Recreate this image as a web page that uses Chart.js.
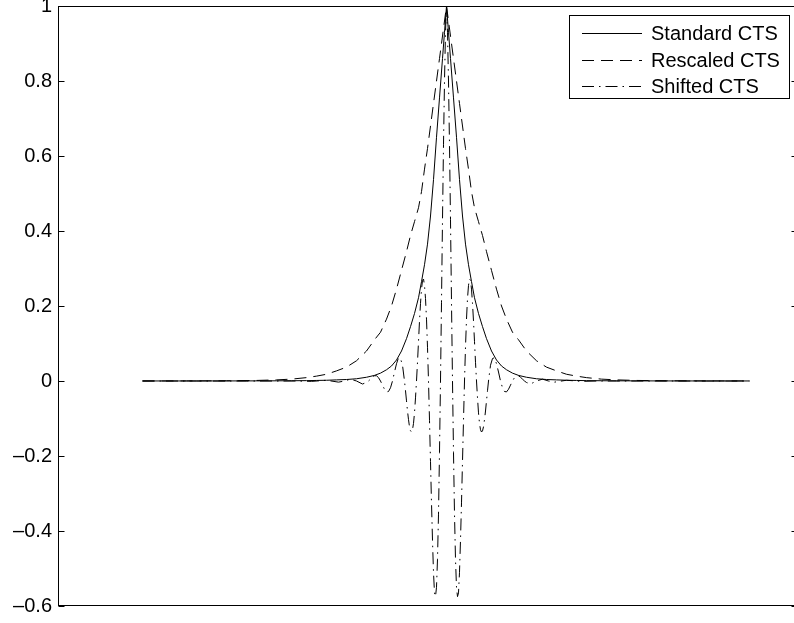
<!DOCTYPE html>
<html>
<head>
<meta charset="utf-8">
<script src="https://cdn.jsdelivr.net/npm/chart.js@4.4.1/dist/chart.umd.min.js"></script>
<style>
html, body { margin: 0; padding: 0; overflow: hidden; background: #fff; }
</style>
</head>
<body>
<canvas id="cts" width="800" height="623"></canvas>
<script>
// x positions are offsets from the peak (no x labels on the original)
var xSmooth = [-304, -260, -220, -190, -170, -155, -140, -130, -120, -110, -100, -90, -80, -72, -66, -60, -55, -50, -45, -40, -36, -32, -28, -25, -22, -19, -16, -13, -10, -7, -4, -2,
    0, 2, 4, 7, 10, 13, 16, 19, 22, 25, 28, 32, 36, 40, 45, 50, 55, 60, 66, 72, 80, 90, 100, 110, 120, 130, 140, 155, 170, 190, 220, 260, 303];

var standardVals = [0.0001, 0.0001, 0.0002, 0.0003, 0.0005, 0.0007, 0.001, 0.0015, 0.002, 0.003, 0.004, 0.006, 0.01, 0.015, 0.021, 0.03, 0.04, 0.056, 0.08, 0.113, 0.145, 0.18, 0.222, 0.265, 0.31, 0.365, 0.44, 0.537, 0.65, 0.755, 0.86, 0.93,
    1.0, 0.93, 0.86, 0.755, 0.65, 0.537, 0.44, 0.365, 0.31, 0.265, 0.222, 0.18, 0.145, 0.113, 0.08, 0.056, 0.04, 0.03, 0.021, 0.015, 0.01, 0.006, 0.004, 0.003, 0.002, 0.0015, 0.001, 0.0007, 0.0005, 0.0003, 0.0002, 0.0001, 0.0001];

var rescaledVals = [0.0001, 0.0002, 0.0006, 0.0015, 0.003, 0.005, 0.009, 0.013, 0.018, 0.027, 0.037, 0.054, 0.08, 0.11, 0.13, 0.165, 0.2, 0.245, 0.295, 0.345, 0.388, 0.425, 0.462, 0.505, 0.565, 0.62, 0.68, 0.74, 0.8, 0.86, 0.92, 0.96,
    1.0, 0.96, 0.92, 0.86, 0.8, 0.74, 0.68, 0.62, 0.565, 0.505, 0.462, 0.425, 0.388, 0.345, 0.295, 0.245, 0.2, 0.165, 0.13, 0.11, 0.08, 0.054, 0.037, 0.027, 0.018, 0.013, 0.009, 0.005, 0.003, 0.0015, 0.0006, 0.0002, 0.0001];

var xShifted = [-304, -250, -200, -170, -150, -135, -120, -108, -102, -96, -90, -84,
    -80, -78, -76, -74, -72, -70, -68, -66, -64, -62, -60, -58, -56, -54, -52, -50, -48, -46, -44,
    -42, -41, -40, -39, -38, -37, -36, -35, -34, -33, -32, -31, -30, -29, -28, -27, -26, -25, -24, -23, -22,
    -21, -20, -19, -18, -17, -16, -15, -14, -13, -12, -11, -10, -9, -8, -7, -6, -5, -4, -3, -2, -1,
    0, 1, 2, 3, 4, 5, 6, 7, 8, 9, 10, 11, 12, 13, 14, 15, 16, 17, 18, 19, 20, 21,
    22, 23, 24, 25, 26, 27, 28, 29, 30, 31, 32, 33, 34, 35, 36, 37, 38, 39, 40, 41, 42,
    44, 46, 48, 50, 52, 54, 56, 58, 60, 62, 64, 66, 68, 70, 72, 74, 76, 78, 80,
    84, 90, 96, 102, 108, 120, 135, 150, 170, 200, 250, 303];

var shiftedVals = [0, 0, 0, 0, 0, -0.001, 0.002, -0.003, 0, 0.005, 0, -0.008,
    -0.004, 0, 0.005, 0.01, 0.014, 0.014, 0.009, 0, -0.011, -0.022, -0.029, -0.028, -0.018, 0, 0.024, 0.046, 0.062, 0.06, 0.042,
    0, -0.026, -0.053, -0.08, -0.103, -0.122, -0.133, -0.136, -0.13, -0.113, -0.085, -0.045, 0, 0.05, 0.105, 0.16, 0.207, 0.245, 0.268, 0.272, 0.255,
    0.22, 0.165, 0.09, 0, -0.105, -0.215, -0.325, -0.425, -0.51, -0.565, -0.575, -0.55, -0.475, -0.355, -0.19, 0, 0.21, 0.43, 0.63, 0.8, 0.93,
    1.0, 0.93, 0.8, 0.63, 0.43, 0.21, 0, -0.19, -0.355, -0.475, -0.55, -0.575, -0.565, -0.51, -0.425, -0.325, -0.215, -0.105, 0, 0.09, 0.165, 0.22,
    0.255, 0.272, 0.268, 0.245, 0.207, 0.16, 0.105, 0.05, 0, -0.045, -0.085, -0.113, -0.13, -0.136, -0.133, -0.122, -0.103, -0.08, -0.053, -0.026, 0,
    0.042, 0.06, 0.062, 0.046, 0.024, 0, -0.018, -0.028, -0.029, -0.022, -0.011, 0, 0.009, 0.014, 0.014, 0.01, 0.005, 0, -0.004,
    -0.008, 0, 0.005, 0, -0.003, 0.002, -0.001, 0, 0, 0, 0, 0];

var yTicks = [1, 0.8, 0.6, 0.4, 0.2, 0, -0.2, -0.4, -0.6];
var seriesNames = ["Standard CTS", "Rescaled CTS", "Shifted CTS"];

var FONT = "'Liberation Sans', Arial, Helvetica, sans-serif";
var dashes = [[], [12, 7], [12, 5, 1.5, 5]];

function toPoints(xs, ys) {
    return xs.map((x, i) => ({ x: x, y: ys[i] }))
}

function fmtTick(v) {
    // matlab style minus
    return v < 0 ? "\u2013" + Math.abs(v) : String(v)
}

var framePlugin = {
    id: "frame",
    afterDatasetsDraw(chart) {
        const ctx = chart.ctx;
        const a = chart.chartArea;
        const y = chart.scales.y;
        const L = Math.round(a.left) + 0.5, R = Math.round(a.right) - 0.5;
        const T = Math.round(a.top) + 0.5, B = Math.round(a.bottom) - 0.5;
        ctx.save();
        ctx.strokeStyle = "#000";
        ctx.lineWidth = 1;
        ctx.setLineDash([]);
        ctx.strokeRect(L, T, R - L, B - T);
        // inward ticks on both sides
        ctx.beginPath();
        yTicks.forEach(v => {
            const py = Math.round(y.getPixelForValue(v)) + 0.5;
            ctx.moveTo(L, py); ctx.lineTo(L + 6, py);
            ctx.moveTo(R, py); ctx.lineTo(R - 6, py);
        });
        ctx.stroke();

        // legend box
        const bx = 569.5, by = 15.5, bw = 220, bh = 83;
        ctx.fillStyle = "#fff";
        ctx.fillRect(bx, by, bw, bh);
        ctx.strokeRect(bx, by, bw, bh);
        const rows = [33, 60, 86];
        ctx.font = "20px " + FONT;
        ctx.textBaseline = "middle";
        ctx.textAlign = "left";
        seriesNames.forEach((name, i) => {
            ctx.setLineDash(dashes[i]);
            ctx.beginPath();
            ctx.moveTo(582, rows[i] + 0.5);
            ctx.lineTo(642, rows[i] + 0.5);
            ctx.stroke();
            ctx.fillStyle = "#000";
            ctx.fillText(name, 651, rows[i] + 1);
        });
        ctx.restore();
    }
};

new Chart(document.getElementById("cts").getContext("2d"), {
    type: "line",
    data: {
        datasets: [
            { label: seriesNames[0], data: toPoints(xSmooth, standardVals), borderDash: dashes[0] },
            { label: seriesNames[1], data: toPoints(xSmooth, rescaledVals), borderDash: dashes[1] },
            { label: seriesNames[2], data: toPoints(xShifted, shiftedVals), borderDash: dashes[2] },
        ],
    },
    options: {
        responsive: false,
        animation: false,
        devicePixelRatio: 1,
        layout: { padding: { left: 0, top: 6, right: 2, bottom: 17 } },
        elements: {
            line: { borderColor: "#000", borderWidth: 1, tension: 0, fill: false },
            point: { radius: 0 },
        },
        plugins: { legend: { display: false }, tooltip: { enabled: false } },
        scales: {
            x: { type: "linear", min: -388.5, max: 351.5, display: false },
            y: {
                min: -0.6,
                max: 1,
                afterBuildTicks: s => { s.ticks = yTicks.map(v => ({ value: v })) },
                afterFit: s => { s.width = 58; s.paddingTop = 0; s.paddingBottom = 0 },
                grid: { display: false, drawTicks: false },
                border: { display: false },
                ticks: {
                    padding: 6,
                    color: "#000",
                    font: { family: FONT, size: 20 },
                    callback: v => fmtTick(v),
                },
            },
        },
    },
    plugins: [framePlugin],
});
</script>
</body>
</html>
